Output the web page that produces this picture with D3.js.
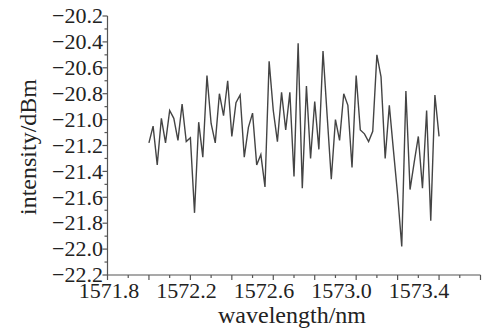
<!DOCTYPE html>
<html><head><meta charset="utf-8">
<script src="https://cdn.jsdelivr.net/npm/d3@7"></script>
<style>body{margin:0;background:#fff}svg{display:block}text{font-family:"Liberation Serif","Times New Roman",serif;fill:#222}</style>
</head><body><svg id="c" width="484" height="331"></svg>
<script>
const startWavelength = 1572.0;
const stepWavelength = 0.02;
const intensity = [
-21.18,-21.05,-21.35,-20.99,-21.18,-20.93,-20.99,-21.16,-20.88,-21.17,
-21.14,-21.72,-21.02,-21.29,-20.66,-21.03,-21.18,-20.80,-20.97,-20.70,
-21.13,-20.87,-20.81,-21.29,-21.06,-20.95,-21.35,-21.27,-21.52,-20.55,
-20.93,-21.17,-20.79,-21.08,-20.79,-21.44,-20.41,-21.53,-20.74,-21.30,
-20.86,-21.23,-20.47,-20.97,-21.46,-21.00,-21.16,-20.80,-20.89,-21.37,
-20.66,-21.08,-21.11,-21.17,-21.09,-20.50,-20.67,-21.30,-20.89,-21.24,
-21.58,-21.98,-20.78,-21.54,-21.33,-21.13,-21.53,-20.93,-21.78,-20.81,
-21.13];
const wavelength = intensity.map((_, i) => +(startWavelength + i * stepWavelength).toFixed(2));
const xTickLabels = [1571.8, 1572.2, 1572.6, 1573.0, 1573.4];
const yTickLabels = [-20.2,-20.4,-20.6,-20.8,-21.0,-21.2,-21.4,-21.6,-21.8,-22.0,-22.2];

const svg = d3.select("#c");
const x = d3.scaleLinear().domain([1571.8, 1573.6]).range([107.5, 480.5]);
const xLab = d3.scaleLinear().domain([1571.8, 1573.4]).range([109, 419]);
const y = d3.scaleLinear().domain([-22.2, -20.2]).range([275, 16]);
const axisColor = "#555";

// x axis
const gx = svg.append("g");
gx.append("line").attr("x1", x(1571.8)).attr("x2", x(1573.6)).attr("y1", y(-22.2)).attr("y2", y(-22.2))
  .attr("stroke", axisColor).attr("stroke-width", 1.2);
d3.range(0, 19).forEach(k => {
  const v = 1571.8 + k * 0.1;
  const major = k % 2 === 0;
  gx.append("line").attr("x1", x(v)).attr("x2", x(v)).attr("y1", y(-22.2)).attr("y2", y(-22.2) + (major ? 5 : 3))
    .attr("stroke", axisColor).attr("stroke-width", 1.2);
});
gx.selectAll("text.xl").data(xTickLabels).join("text").attr("class","xl")
  .attr("x", d => xLab(d)).attr("y", 298).attr("text-anchor", "middle").attr("font-size", 22)
  .text(d => d.toFixed(1));
svg.append("text").attr("x", 292).attr("y", 323).attr("text-anchor", "middle").attr("font-size", 24).text("wavelength/nm");

// y axis
const gy = svg.append("g");
gy.append("line").attr("x1", x(1571.8)).attr("x2", x(1571.8)).attr("y1", y(-20.2)).attr("y2", y(-22.2))
  .attr("stroke", axisColor).attr("stroke-width", 1.2);
d3.range(0, 21).forEach(k => {
  const v = -22.2 + k * 0.1;
  const major = k % 2 === 0;
  gy.append("line").attr("x1", x(1571.8) - (major ? 5 : 3)).attr("x2", x(1571.8)).attr("y1", y(v)).attr("y2", y(v))
    .attr("stroke", axisColor).attr("stroke-width", 1.2);
});
gy.selectAll("text.yl").data(yTickLabels).join("text").attr("class","yl")
  .attr("x", 103).attr("y", d => y(d)).attr("dy", "0.33em").attr("text-anchor", "end").attr("font-size", 22)
  .text(d => "\u2212" + Math.abs(d).toFixed(1));
svg.append("text").attr("transform", "translate(36,147) rotate(-90)").attr("text-anchor", "middle").attr("font-size", 24).text("intensity/dBm");

// data line
const line = d3.line().x((d, i) => x(wavelength[i])).y(d => y(d));
svg.append("path").datum(intensity).attr("d", line).attr("fill", "none").attr("stroke", "#444").attr("stroke-width", 1.4)
  .attr("stroke-linejoin", "miter");
</script></body></html>
